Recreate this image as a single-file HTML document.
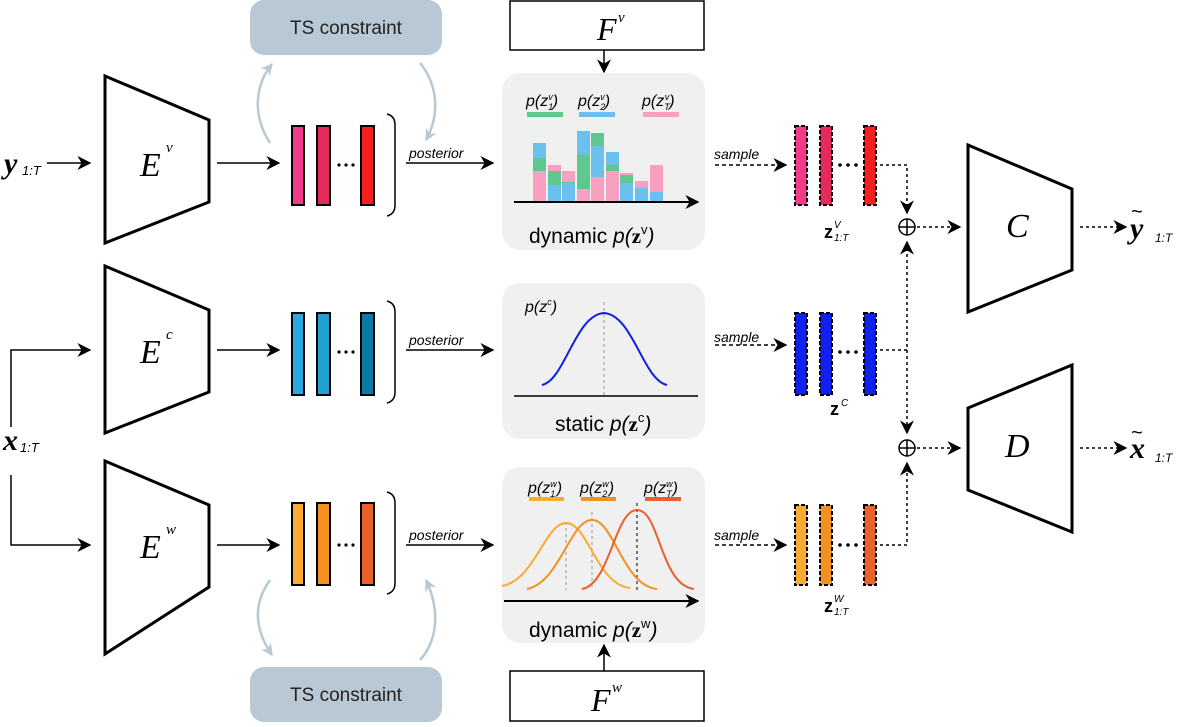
<!DOCTYPE html>
<html><head><meta charset="utf-8"><style>
html,body{margin:0;padding:0;background:#fff;}
svg{display:block;}
text{font-family:"Liberation Sans",sans-serif;}
.serif{font-family:"Liberation Serif",serif;font-style:italic;}
</style></head><body>
<svg width="1177" height="727" viewBox="0 0 1177 727" xmlns="http://www.w3.org/2000/svg">
<defs>
<marker id="ahb" viewBox="0 0 10 10" refX="9" refY="5" markerWidth="14" markerHeight="14" orient="auto" markerUnits="userSpaceOnUse"><path d="M0,0 L10,5 L0,10 L3,5 z" fill="#000"/></marker>
<marker id="ahg" viewBox="0 0 10 10" refX="9" refY="5" markerWidth="12" markerHeight="12" orient="auto" markerUnits="userSpaceOnUse"><path d="M0,0 L10,5 L0,10 L3,5 z" fill="#b8c8d4"/></marker>
</defs>

<rect x="250" y="0" width="192" height="55" rx="14" fill="#b8c8d4"/>
<text x="346" y="34" font-size="19" text-anchor="middle" fill="#222">TS constraint</text>
<rect x="250" y="667" width="192" height="55" rx="14" fill="#b8c8d4"/>
<text x="346" y="701" font-size="19" text-anchor="middle" fill="#222">TS constraint</text>
<g fill="none" stroke="#b8c8d4" stroke-width="2.5">
<path d="M270,143 C252,115 255,85 272,64" marker-end="url(#ahg)"/>
<path d="M420,63 C438,85 440,115 426,140" marker-end="url(#ahg)"/>
<path d="M270,580 C252,605 255,630 272,655" marker-end="url(#ahg)"/>
<path d="M420,660 C438,640 440,610 426,580" marker-end="url(#ahg)"/>
</g>

<rect x="510" y="1" width="194" height="49" fill="#fff" stroke="#000" stroke-width="1.5"/>
<text x="597" y="40" class="serif" font-size="32">F</text><text x="618" y="22" class="serif" font-size="15">v</text>
<line x1="604" y1="50" x2="604" y2="72" stroke="#000" stroke-width="1.5" marker-end="url(#ahb)"/>
<rect x="510" y="671" width="194" height="50" fill="#fff" stroke="#000" stroke-width="1.5"/>
<text x="591" y="711" class="serif" font-size="32">F</text><text x="612" y="692" class="serif" font-size="15">w</text>
<line x1="604" y1="671" x2="604" y2="645" stroke="#000" stroke-width="1.5" marker-end="url(#ahb)"/>

<text x="4" y="173" class="serif" font-size="30" font-weight="bold">y</text><text x="22" y="175" font-size="13" font-style="italic">1:T</text>
<line x1="47" y1="163" x2="90" y2="163" stroke="#000" stroke-width="1.5" marker-end="url(#ahb)"/>
<text x="3" y="450" class="serif" font-size="30" font-weight="bold">x</text><text x="20" y="452" font-size="13" font-style="italic">1:T</text>
<polyline points="11,427 11,350 90,350" fill="none" stroke="#000" stroke-width="1.5" marker-end="url(#ahb)"/>
<polyline points="11,475 11,545 90,545" fill="none" stroke="#000" stroke-width="1.5" marker-end="url(#ahb)"/>

<g fill="#fff" stroke="#000" stroke-width="3">
<polygon points="105,76 209,120 209,202 105,243"/>
<polygon points="105,266 209,310 209,392 105,433"/>
<polygon points="105,461 209,505 209,587 105,654"/>
</g>
<text x="140" y="176" class="serif" font-size="34">E</text><text x="166" y="152" class="serif" font-size="15">v</text>
<text x="140" y="363" class="serif" font-size="34">E</text><text x="166" y="339" class="serif" font-size="15">c</text>
<text x="140" y="558" class="serif" font-size="34">E</text><text x="166" y="534" class="serif" font-size="15">w</text>
<g stroke="#000" stroke-width="1.5">
<line x1="217" y1="163" x2="279" y2="163" marker-end="url(#ahb)"/>
<line x1="217" y1="350" x2="279" y2="350" marker-end="url(#ahb)"/>
<line x1="217" y1="545" x2="279" y2="545" marker-end="url(#ahb)"/>
</g>

<g stroke="#000" stroke-width="2">
<rect x="292" y="126" width="12" height="79" fill="#f23a8a"/>
<rect x="317" y="126" width="13" height="79" fill="#e52a5c"/>
<rect x="361" y="126" width="13" height="79" fill="#f42020"/>
<rect x="292" y="313" width="12" height="82" fill="#2aa8e0"/>
<rect x="317" y="313" width="13" height="82" fill="#20a2d0"/>
<rect x="361" y="313" width="13" height="82" fill="#0a7ba6"/>
<rect x="292" y="503" width="12" height="82" fill="#fbaa36"/>
<rect x="317" y="503" width="13" height="82" fill="#f29022"/>
<rect x="361" y="503" width="13" height="82" fill="#e8602a"/>
</g>
<g fill="#000">
<circle cx="339" cy="165" r="1.6"/><circle cx="346" cy="165" r="1.6"/><circle cx="353" cy="165" r="1.6"/>
<circle cx="339" cy="352" r="1.6"/><circle cx="346" cy="352" r="1.6"/><circle cx="353" cy="352" r="1.6"/>
<circle cx="339" cy="545" r="1.6"/><circle cx="346" cy="545" r="1.6"/><circle cx="353" cy="545" r="1.6"/>
</g>
<g fill="none" stroke="#000" stroke-width="1.5">
<path d="M387,114 Q395,116 395,125 L395,205 Q395,214 387,216"/>
<path d="M387,301 Q395,303 395,312 L395,392 Q395,401 387,403"/>
<path d="M387,492 Q395,494 395,503 L395,583 Q395,592 387,594"/>
</g>

<g stroke="#000" stroke-width="1.5">
<line x1="406" y1="163" x2="493" y2="163" marker-end="url(#ahb)"/>
<line x1="406" y1="350" x2="493" y2="350" marker-end="url(#ahb)"/>
<line x1="406" y1="545" x2="493" y2="545" marker-end="url(#ahb)"/>
</g>
<g font-size="14" font-style="italic">
<text x="409" y="158">posterior</text><text x="409" y="345">posterior</text><text x="409" y="540">posterior</text>
</g>

<rect x="502" y="73" width="203" height="177" rx="18" fill="#f0f0f0"/>
<rect x="502" y="283" width="203" height="156" rx="18" fill="#f0f0f0"/>
<rect x="502" y="467" width="203" height="176" rx="18" fill="#f0f0f0"/>

<g font-size="16" font-style="italic">
<text x="526" y="106">p(z<tspan font-size="9" dy="4">1</tspan><tspan font-size="9" dx="-5" dy="-10">v</tspan><tspan dy="6">)</tspan></text>
<text x="578" y="106">p(z<tspan font-size="9" dy="4">2</tspan><tspan font-size="9" dx="-5" dy="-10">v</tspan><tspan dy="6">)</tspan></text>
<text x="642" y="106">p(z<tspan font-size="9" dy="4">T</tspan><tspan font-size="9" dx="-5" dy="-10">v</tspan><tspan dy="6">)</tspan></text>
</g>
<rect x="527" y="112" width="36" height="5" fill="#5fc88e"/>
<rect x="579" y="112" width="36" height="5" fill="#6cc0ee"/>
<rect x="643" y="112" width="36" height="5" fill="#f7a0c2"/>
<g>
<rect x="533" y="143" width="13" height="58" fill="#f7a0c2"/><rect x="533" y="158" width="13" height="13" fill="#5fc88e"/><rect x="533" y="143" width="13" height="15" fill="#6cc0ee"/>
<rect x="548" y="165" width="13" height="36" fill="#6cc0ee"/><rect x="548" y="171" width="13" height="14" fill="#5fc88e"/><rect x="548" y="165" width="13" height="6" fill="#f7a0c2"/>
<rect x="562" y="171" width="13" height="30" fill="#6cc0ee"/><rect x="562" y="177" width="13" height="6" fill="#5fc88e"/><rect x="562" y="171" width="13" height="11" fill="#f7a0c2"/>
<rect x="577" y="131" width="13" height="70" fill="#f7a0c2"/><rect x="577" y="155" width="13" height="34" fill="#5fc88e"/><rect x="577" y="131" width="13" height="24" fill="#6cc0ee"/>
<rect x="591" y="133" width="13" height="68" fill="#f7a0c2"/><rect x="591" y="146" width="13" height="31" fill="#6cc0ee"/><rect x="591" y="133" width="13" height="13" fill="#5fc88e"/>
<rect x="606" y="152" width="13" height="49" fill="#f7a0c2"/><rect x="606" y="152" width="13" height="13" fill="#6cc0ee"/><rect x="606" y="165" width="13" height="6" fill="#5fc88e"/>
<rect x="620" y="173" width="13" height="28" fill="#6cc0ee"/><rect x="620" y="175" width="13" height="8" fill="#5fc88e"/><rect x="620" y="173" width="13" height="2" fill="#f7a0c2"/>
<rect x="635" y="181" width="13" height="20" fill="#6cc0ee"/><rect x="635" y="181" width="13" height="7" fill="#f7a0c2"/>
<rect x="650" y="165" width="13" height="36" fill="#f7a0c2"/><rect x="650" y="192" width="13" height="9" fill="#6cc0ee"/>
</g>
<line x1="514" y1="202" x2="698" y2="202" stroke="#000" stroke-width="2" marker-end="url(#ahb)"/>
<text x="529" y="243" font-size="21">dynamic <tspan font-style="italic">p(</tspan><tspan font-family="Liberation Serif" font-weight="bold">z</tspan><tspan font-size="13" dy="-9">v</tspan><tspan dy="9" font-style="italic">)</tspan></text>

<text x="525" y="312" font-size="16" font-style="italic">p(z<tspan font-size="9" dy="-7">c</tspan><tspan dy="7">)</tspan></text>
<line x1="604" y1="302" x2="604" y2="396" stroke="#999" stroke-dasharray="3,3"/>
<path d="M542,385 C565,380 575,315 604,313 C633,315 643,380 667,385" fill="none" stroke="#1020e0" stroke-width="2"/>
<line x1="514" y1="396" x2="698" y2="396" stroke="#000" stroke-width="1.5"/>
<text x="555" y="431" font-size="21">static <tspan font-style="italic">p(</tspan><tspan font-family="Liberation Serif" font-weight="bold">z</tspan><tspan font-size="13" dy="-9">c</tspan><tspan dy="9" font-style="italic">)</tspan></text>

<g font-size="16" font-style="italic">
<text x="528" y="493">p(z<tspan font-size="9" dy="4">1</tspan><tspan font-size="9" dx="-5" dy="-10">w</tspan><tspan dy="6">)</tspan></text>
<text x="580" y="493">p(z<tspan font-size="9" dy="4">2</tspan><tspan font-size="9" dx="-5" dy="-10">w</tspan><tspan dy="6">)</tspan></text>
<text x="644" y="493">p(z<tspan font-size="9" dy="4">T</tspan><tspan font-size="9" dx="-5" dy="-10">w</tspan><tspan dy="6">)</tspan></text>
</g>
<rect x="529" y="497" width="35" height="4" fill="#fbaa36"/>
<rect x="581" y="497" width="35" height="4" fill="#f29022"/>
<rect x="645" y="497" width="36" height="4" fill="#e8602a"/>
<g stroke-dasharray="3,3" stroke-width="1">
<line x1="566" y1="522" x2="566" y2="590" stroke="#999"/>
<line x1="592" y1="512" x2="592" y2="590" stroke="#999"/>
<line x1="637" y1="503" x2="637" y2="590" stroke="#000"/>
</g>
<g fill="none" stroke-width="2">
<path d="M502,586 C535,580 545,523 566,523 C588,523 597,585 630,588" stroke="#fbaa36"/>
<path d="M527,589 C560,582 570,520 592,520 C614,520 623,586 657,589" stroke="#f29022"/>
<path d="M582,589 C610,584 615,510 637,510 C660,510 660,585 694,589" stroke="#e8602a"/>
</g>
<line x1="504" y1="601" x2="698" y2="601" stroke="#000" stroke-width="2" marker-end="url(#ahb)"/>
<text x="529" y="637" font-size="21">dynamic <tspan font-style="italic">p(</tspan><tspan font-family="Liberation Serif" font-weight="bold">z</tspan><tspan font-size="13" dy="-9">w</tspan><tspan dy="9" font-style="italic">)</tspan></text>

<g stroke="#000" stroke-width="1.5" stroke-dasharray="4,3" fill="none">
<line x1="715" y1="165" x2="786" y2="165" marker-end="url(#ahb)"/>
<line x1="715" y1="345" x2="786" y2="345" marker-end="url(#ahb)"/>
<line x1="715" y1="545" x2="786" y2="545" marker-end="url(#ahb)"/>
</g>
<g font-size="14" font-style="italic"><text x="714" y="159">sample</text><text x="714" y="342">sample</text><text x="714" y="540">sample</text></g>

<g stroke="#000" stroke-width="2" stroke-dasharray="4,2">
<rect x="795" y="126" width="12" height="79" fill="#f23a8a"/>
<rect x="820" y="126" width="12" height="79" fill="#e52a5c"/>
<rect x="864" y="126" width="12" height="79" fill="#f42020"/>
<rect x="795" y="313" width="12" height="82" fill="#1020f0"/>
<rect x="820" y="313" width="12" height="82" fill="#1020f0"/>
<rect x="864" y="313" width="12" height="82" fill="#1020f0"/>
<rect x="795" y="505" width="12" height="80" fill="#fbaa36"/>
<rect x="820" y="505" width="12" height="80" fill="#f29022"/>
<rect x="864" y="505" width="12" height="80" fill="#e8602a"/>
</g>
<g fill="#000">
<circle cx="840" cy="165" r="1.8"/><circle cx="848" cy="165" r="1.8"/><circle cx="856" cy="165" r="1.8"/>
<circle cx="840" cy="352" r="1.8"/><circle cx="848" cy="352" r="1.8"/><circle cx="856" cy="352" r="1.8"/>
<circle cx="840" cy="545" r="1.8"/><circle cx="848" cy="545" r="1.8"/><circle cx="856" cy="545" r="1.8"/>
</g>
<text x="824" y="238" font-family="Liberation Serif" font-weight="bold" font-size="18">z</text><text x="834" y="228" font-size="10" font-style="italic">V</text><text x="834" y="241" font-size="10" font-style="italic">1:T</text>
<text x="830" y="415" font-family="Liberation Serif" font-weight="bold" font-size="18">z</text><text x="841" y="406" font-size="10" font-style="italic">C</text>
<text x="824" y="612" font-family="Liberation Serif" font-weight="bold" font-size="18">z</text><text x="834" y="602" font-size="10" font-style="italic">W</text><text x="834" y="615" font-size="10" font-style="italic">1:T</text>

<g stroke="#000" stroke-width="1.5" stroke-dasharray="3,3" fill="none">
<polyline points="880,165 907,165 907,213" marker-end="url(#ahb)"/>
<polyline points="880,350 907,350 907,242" marker-end="url(#ahb)"/>
<line x1="907" y1="350" x2="907" y2="433" marker-end="url(#ahb)"/>
<polyline points="880,545 907,545 907,463" marker-end="url(#ahb)"/>
<line x1="917" y1="227" x2="960" y2="227" marker-end="url(#ahb)"/>
<line x1="917" y1="448" x2="960" y2="448" marker-end="url(#ahb)"/>
<line x1="1080" y1="227" x2="1126" y2="227" marker-end="url(#ahb)"/>
<line x1="1080" y1="448" x2="1126" y2="448" marker-end="url(#ahb)"/>
</g>
<g fill="#fff" stroke="#000" stroke-width="1.5">
<circle cx="907" cy="227" r="8"/><circle cx="907" cy="448" r="8"/>
</g>
<g stroke="#000" stroke-width="1.5">
<line x1="899" y1="227" x2="915" y2="227"/><line x1="907" y1="219" x2="907" y2="235"/>
<line x1="899" y1="448" x2="915" y2="448"/><line x1="907" y1="440" x2="907" y2="456"/>
</g>

<g fill="#fff" stroke="#000" stroke-width="3">
<polygon points="968,145 1072,189 1072,270 968,312"/>
<polygon points="968,408 1072,365 1072,532 968,490"/>
</g>
<text x="1006" y="237" class="serif" font-size="34">C</text>
<text x="1005" y="457" class="serif" font-size="34">D</text>
<text x="1130" y="238" class="serif" font-size="30" font-weight="bold">y</text><text x="1131" y="218" font-size="20">~</text><text x="1155" y="242" font-size="12" font-style="italic">1:T</text>
<text x="1130" y="458" class="serif" font-size="30" font-weight="bold">x</text><text x="1131" y="439" font-size="20">~</text><text x="1155" y="462" font-size="12" font-style="italic">1:T</text>
</svg>
</body></html>
